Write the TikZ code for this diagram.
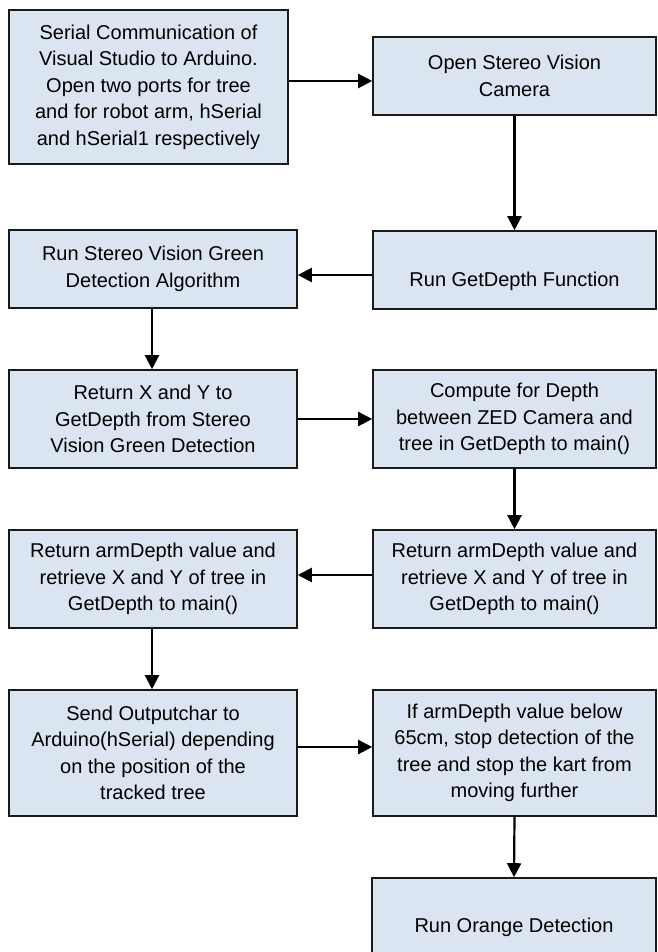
\documentclass[tikz,border=0pt]{standalone}
\usepackage{fontspec}
\setmainfont{Liberation Sans}
\usetikzlibrary{arrows.meta}
\definecolor{boxfill}{HTML}{DBE5F1}
\definecolor{boxline}{HTML}{1A1A1A}
\begin{document}
\begin{tikzpicture}[x=1pt,y=-1pt,
  box/.style={draw=boxline, line width=1.6pt, fill=boxfill, align=center, inner sep=0pt,
    font=\fontsize{20}{26.5}\selectfont},
  lbl/.style={align=center, inner sep=0pt, font=\fontsize{20}{26.5}\selectfont},
  arr/.style={draw=black, line width=2.2pt, -{Triangle[length=14pt,width=14pt]}}]
\fill[white] (0,0) rectangle (657,952);
\useasboundingbox (0,0) rectangle (657,952);

\node[box, minimum width=279pt, minimum height=154pt] (b1) at (148.5,87)
  {Serial Communication of\\Visual Studio to Arduino.\\Open two ports for tree\\and for robot arm, hSerial\\and hSerial1 respectively};
\node[box, minimum width=283pt, minimum height=78pt] (b2) at (514.5,76)
  {Open Stereo Vision\\Camera};
\node[box, minimum width=283pt, minimum height=78pt] (b3) at (514.5,270) {};
\node[lbl] (t3) at (514.5,281) {Run GetDepth Function};
\node[box, minimum width=288pt, minimum height=78pt] (b4) at (153,269)
  {Run Stereo Vision Green\\Detection Algorithm};
\node[box, minimum width=288pt, minimum height=98pt] (b5) at (153,419)
  {Return X and Y to\\GetDepth from Stereo\\Vision Green Detection};
\node[box, minimum width=283pt, minimum height=98pt] (b6) at (514.5,419)
  {Compute for Depth\\between ZED Camera and\\tree in GetDepth to main()};
\node[box, minimum width=283pt, minimum height=98pt] (b7) at (514.5,579)
  {Return armDepth value and\\retrieve X and Y of tree in\\GetDepth to main()};
\node[box, minimum width=288pt, minimum height=98pt] (b8) at (153,579)
  {Return armDepth value and\\retrieve X and Y of tree in\\GetDepth to main()};
\node[box, minimum width=288pt, minimum height=126pt] (b9) at (153,753)
  {Send Outputchar to\\Arduino(hSerial) depending\\on the position of the\\tracked tree};
\node[box, minimum width=283pt, minimum height=126pt] (b10) at (514.5,753)
  {If armDepth value below\\65cm, stop detection of the\\tree and stop the kart from\\moving further};
\node[box, minimum width=284pt, minimum height=78pt] (b11) at (514,917) {};
\node[lbl] (t11) at (514,927) {Run Orange Detection};

\draw[arr] (b1.east |- 0,81) -- (b2.west |- 0,81);
\draw[arr] (b2.south) -- (b3.north);
\draw[arr] (b3.west |- 0,275) -- (b4.east |- 0,275);
\draw[arr] (b4.south -| 152,0) -- (b5.north -| 152,0);
\draw[arr] (b5.east) -- (b6.west);
\draw[arr] (b6.south) -- (b7.north);
\draw[arr] (b7.west |- 0,575) -- (b8.east |- 0,575);
\draw[arr] (b8.south -| 152,0) -- (b9.north -| 152,0);
\draw[arr] (b9.east |- 0,747) -- (b10.west |- 0,747);
\draw[arr] (b10.south) -- (b11.north);
\end{tikzpicture}
\end{document}
